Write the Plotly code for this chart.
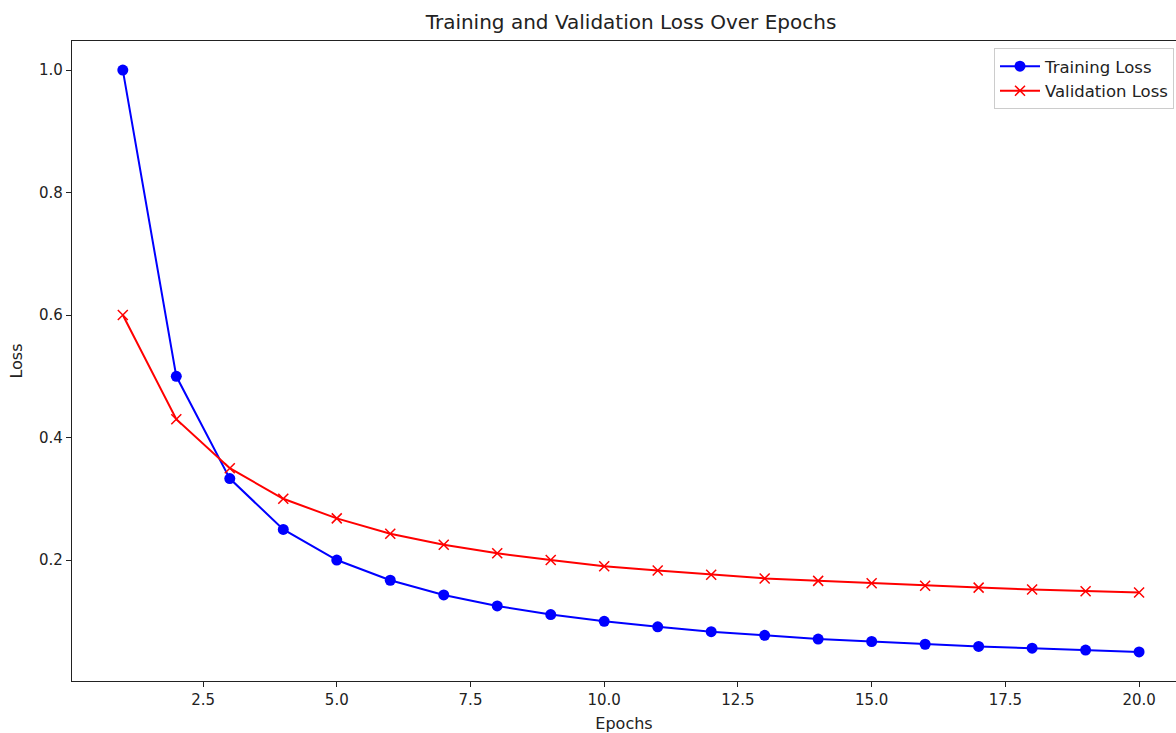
import plotly.graph_objects as go

epochs = list(range(1, 21))
training_loss = [1.0, 0.5, 0.333, 0.25, 0.2, 0.167, 0.143, 0.125, 0.111, 0.1,
                 0.091, 0.083, 0.077, 0.071, 0.067, 0.0625, 0.059, 0.056, 0.053, 0.05]
validation_loss = [0.60, 0.43, 0.35, 0.30, 0.268, 0.243, 0.225, 0.211, 0.200, 0.190,
                   0.183, 0.176, 0.170, 0.166, 0.162, 0.158, 0.155, 0.152, 0.149, 0.147]
x_ticks = [2.5, 5.0, 7.5, 10.0, 12.5, 15.0, 17.5, 20.0]
y_ticks = [0.2, 0.4, 0.6, 0.8, 1.0]

W, H = 1176, 733
L, R, T, B = 72, 0, 41, 52

fig = go.Figure()
fig.add_trace(go.Scatter(
    x=epochs, y=training_loss, mode="lines+markers", name="Training Loss",
    line=dict(color="blue", width=2),
    marker=dict(symbol="circle", size=11, color="blue"),
))
fig.add_trace(go.Scatter(
    x=epochs, y=validation_loss, mode="lines+markers", name="Validation Loss",
    line=dict(color="red", width=2),
    marker=dict(symbol="x-thin", size=10, color="red", line=dict(color="red", width=1.5)),
))

font = "DejaVu Sans"
fig.update_layout(
    width=W, height=H,
    margin=dict(l=L, r=R, t=T, b=B, pad=0, autoexpand=False),
    paper_bgcolor="white", plot_bgcolor="white",
    font=dict(family=font, size=15, color="#222222"),
    title=dict(text="Training and Validation Loss Over Epochs", x=631 / W, xanchor="center",
               y=1 - 22 / H, yanchor="middle", yref="container",
               font=dict(family=font, size=20, color="#222222")),
    showlegend=True,
    legend=dict(x=(994 - L) / (W - L - R), y=(H - B - 48) / (H - B - T), xanchor="left", yanchor="top",
                bgcolor="rgba(255,255,255,0.8)", bordercolor="#cccccc", borderwidth=1,
                font=dict(family=font, size=16.5, color="#222222"),
                itemwidth=40),
)
fig.update_xaxes(
    range=[0.05, 20.69], tickvals=x_ticks, tickformat=".1f", automargin=False,
    showgrid=False, zeroline=False,
    showline=True, linecolor="#222222", linewidth=1.3, mirror=True,
    ticks="outside", ticklen=5, tickwidth=1.1, tickcolor="#222222",
    tickfont=dict(family=font, size=15),
    title=dict(text="Epochs", font=dict(family=font, size=16), standoff=15),
)
fig.update_yaxes(
    range=[0.0025, 1.0475], tickvals=y_ticks, tickformat=".1f", automargin=False,
    showgrid=False, zeroline=False,
    showline=True, linecolor="#222222", linewidth=1.3, mirror=False,
    ticks="outside", ticklen=5, tickwidth=1.1, tickcolor="#222222",
    tickfont=dict(family=font, size=15),
    title=dict(text="Loss", font=dict(family=font, size=16), standoff=12),
)

fig.write_html("out.html",
               config={"displayModeBar": False},
               post_script="document.body.style.margin='0';document.body.style.overflow='hidden';")
